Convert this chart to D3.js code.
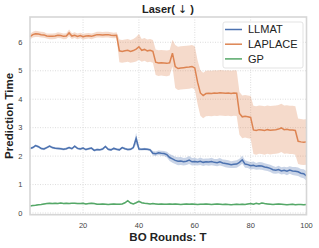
<!DOCTYPE html>
<html>
<head>
<meta charset="utf-8">
<script src="https://cdn.jsdelivr.net/npm/d3@7"></script>
<style>
  body { margin: 0; background: #fff; }
  text { font-family: "Liberation Sans", Arial, sans-serif; }
</style>
</head>
<body>
<div id="chart"></div>
<script>
// rounds 1..100
var rounds = d3.range(1, 101);

var seriesNames = ["LLMAT", "LAPLACE", "GP"];
var seriesColors = ["#4C72B0", "#DD8452", "#55A868"];

var llmatMean = [
  2.27, 2.30, 2.37, 2.33, 2.27, 2.25, 2.30, 2.35, 2.30, 2.28,
  2.27, 2.26, 2.24, 2.26, 2.30, 2.26, 2.35, 2.27, 2.25, 2.28,
  2.23, 2.26, 2.28, 2.20, 2.23, 2.22, 2.25, 2.34, 2.24, 2.22,
  2.27, 2.24, 2.22, 2.30, 2.26, 2.23, 2.24, 2.30, 2.62, 2.25,
  2.24, 2.25, 2.24, 2.22, 2.10, 2.08, 2.12, 2.10, 2.09, 2.05,
  1.95, 1.90, 1.85, 1.82, 1.83, 1.80, 1.82, 1.86, 1.80, 1.81,
  1.79, 1.82, 1.78, 1.80, 1.79, 1.81, 1.78, 1.77, 1.80, 1.76,
  1.74, 1.72, 1.70, 1.71, 1.72, 1.78, 1.87, 1.72, 1.70, 1.66,
  1.68, 1.64, 1.66, 1.65, 1.62, 1.60, 1.57, 1.52, 1.50, 1.53,
  1.48, 1.50, 1.47, 1.51, 1.48, 1.47, 1.45, 1.40, 1.38, 1.30
];
var llmatStd = [
  0.04, 0.04, 0.04, 0.04, 0.04, 0.04, 0.04, 0.04, 0.04, 0.04,
  0.04, 0.04, 0.04, 0.04, 0.04, 0.04, 0.04, 0.04, 0.04, 0.04,
  0.04, 0.04, 0.04, 0.04, 0.04, 0.04, 0.04, 0.04, 0.04, 0.04,
  0.04, 0.04, 0.04, 0.04, 0.04, 0.04, 0.04, 0.05, 0.20, 0.05,
  0.04, 0.04, 0.04, 0.05, 0.08, 0.08, 0.08, 0.09, 0.09, 0.10,
  0.12, 0.13, 0.13, 0.14, 0.14, 0.13, 0.13, 0.14, 0.13, 0.13,
  0.12, 0.13, 0.13, 0.12, 0.13, 0.13, 0.12, 0.13, 0.13, 0.12,
  0.13, 0.13, 0.12, 0.13, 0.13, 0.13, 0.14, 0.13, 0.12, 0.13,
  0.13, 0.12, 0.13, 0.13, 0.13, 0.12, 0.13, 0.13, 0.12, 0.13,
  0.13, 0.13, 0.14, 0.13, 0.14, 0.15, 0.15, 0.15, 0.16, 0.17
];

var laplaceMean = [
  6.20, 6.27, 6.30, 6.29, 6.27, 6.26, 6.22, 6.21, 6.21, 6.22,
  6.25, 6.24, 6.21, 6.22, 6.33, 6.22, 6.25, 6.21, 6.24, 6.20,
  6.22, 6.23, 6.21, 6.24, 6.27, 6.27, 6.26, 6.27, 6.27, 6.25,
  6.24, 6.25, 5.70, 5.68, 5.70, 5.72, 5.68, 5.71, 5.76, 5.84,
  5.72, 5.75, 5.70, 5.72, 5.68, 5.30, 5.27, 5.28, 5.27, 5.26,
  5.28, 5.62, 5.15, 5.08, 5.10, 5.11, 5.12, 5.13, 5.15, 5.10,
  4.60, 4.22, 4.13, 4.20, 4.21, 4.20, 4.22, 4.21, 4.23, 4.22,
  4.21, 4.22, 4.20, 4.22, 4.21, 3.50, 3.38, 3.40, 3.38, 3.36,
  2.92, 2.90, 2.93, 2.92, 2.90, 2.93, 2.91, 2.92, 2.93, 2.95,
  2.99, 2.93, 2.94, 2.92, 2.92, 2.90, 2.52, 2.50, 2.49, 2.50
];
var laplaceStd = [
  0.10, 0.10, 0.11, 0.10, 0.10, 0.10, 0.09, 0.10, 0.10, 0.10,
  0.10, 0.10, 0.10, 0.10, 0.12, 0.10, 0.10, 0.10, 0.10, 0.10,
  0.10, 0.10, 0.10, 0.10, 0.10, 0.10, 0.10, 0.10, 0.10, 0.10,
  0.10, 0.10, 0.40, 0.40, 0.40, 0.40, 0.40, 0.41, 0.43, 0.45,
  0.40, 0.40, 0.40, 0.40, 0.40, 0.45, 0.45, 0.45, 0.45, 0.45,
  0.45, 0.47, 0.76, 0.76, 0.76, 0.76, 0.76, 0.76, 0.76, 0.76,
  0.77, 0.80, 0.80, 0.80, 0.80, 0.80, 0.80, 0.80, 0.80, 0.80,
  0.80, 0.80, 0.80, 0.80, 0.80, 0.75, 0.75, 0.75, 0.75, 0.75,
  0.85, 0.85, 0.85, 0.85, 0.85, 0.85, 0.85, 0.85, 0.85, 0.85,
  0.85, 0.85, 0.85, 0.85, 0.85, 0.85, 0.80, 0.80, 0.80, 0.80
];

var gpMean = [
  0.25, 0.26, 0.27, 0.29, 0.30, 0.32, 0.33, 0.34, 0.33, 0.34,
  0.33, 0.35, 0.33, 0.34, 0.33, 0.34, 0.34, 0.33, 0.33, 0.34,
  0.32, 0.33, 0.34, 0.33, 0.31, 0.31, 0.32, 0.31, 0.30, 0.31,
  0.32, 0.31, 0.31, 0.32, 0.36, 0.43, 0.35, 0.32, 0.36, 0.41,
  0.36, 0.34, 0.33, 0.32, 0.33, 0.32, 0.31, 0.32, 0.31, 0.31,
  0.32, 0.31, 0.32, 0.31, 0.30, 0.31, 0.32, 0.31, 0.32, 0.31,
  0.30, 0.31, 0.31, 0.32, 0.31, 0.30, 0.31, 0.32, 0.31, 0.30,
  0.31, 0.30, 0.29, 0.30, 0.31, 0.30, 0.31, 0.30, 0.32, 0.33,
  0.31, 0.34, 0.32, 0.35, 0.33, 0.32, 0.31, 0.30, 0.31, 0.32,
  0.31, 0.30, 0.29, 0.30, 0.31, 0.29, 0.30, 0.30, 0.29, 0.30
];
var gpStd = [
  0.02, 0.02, 0.02, 0.02, 0.02, 0.02, 0.02, 0.02, 0.02, 0.02,
  0.02, 0.02, 0.02, 0.02, 0.02, 0.02, 0.02, 0.02, 0.02, 0.02,
  0.02, 0.02, 0.02, 0.02, 0.02, 0.02, 0.02, 0.02, 0.02, 0.02,
  0.02, 0.02, 0.02, 0.02, 0.02, 0.03, 0.02, 0.02, 0.02, 0.03,
  0.02, 0.02, 0.02, 0.02, 0.02, 0.02, 0.02, 0.02, 0.02, 0.02,
  0.02, 0.02, 0.02, 0.02, 0.02, 0.02, 0.02, 0.02, 0.02, 0.02,
  0.02, 0.02, 0.02, 0.02, 0.02, 0.02, 0.02, 0.02, 0.02, 0.02,
  0.02, 0.02, 0.02, 0.02, 0.02, 0.02, 0.02, 0.02, 0.02, 0.02,
  0.02, 0.02, 0.02, 0.02, 0.02, 0.02, 0.02, 0.02, 0.02, 0.02,
  0.02, 0.02, 0.02, 0.02, 0.02, 0.02, 0.02, 0.02, 0.02, 0.02
];

var xTicks = [20, 40, 60, 80, 100];
var yTicks = [0, 1, 2, 3, 4, 5, 6];

var width = 319, height = 248;
var plot = { left: 30, right: 306.5, top: 17, bottom: 214.7 };

var svg = d3.select("#chart").append("svg")
    .attr("width", width)
    .attr("height", height);

var x = d3.scaleLinear().domain([1, 100]).range([plot.left, plot.right]);
var y = d3.scaleLinear().domain([-0.06, 6.89]).range([plot.bottom, plot.top]);

// グリッド
var grid = svg.append("g");
grid.selectAll(".gx").data(xTicks).enter().append("line")
    .attr("x1", function(d) { return x(d); }).attr("x2", function(d) { return x(d); })
    .attr("y1", plot.top).attr("y2", plot.bottom)
    .attr("stroke", "#d4d4d4").attr("stroke-width", 0.8).attr("stroke-dasharray", "1,1.5");
grid.selectAll(".gy").data(yTicks).enter().append("line")
    .attr("x1", plot.left).attr("x2", plot.right)
    .attr("y1", function(d) { return y(d); }).attr("y2", function(d) { return y(d); })
    .attr("stroke", "#d4d4d4").attr("stroke-width", 0.8).attr("stroke-dasharray", "1,1.5");

// 系列
var series = [
    { mean: llmatMean, std: llmatStd },
    { mean: laplaceMean, std: laplaceStd },
    { mean: gpMean, std: gpStd }
];

var area = d3.area()
    .x(function(d) { return x(d.t); })
    .y0(function(d) { return y(d.m - d.s); })
    .y1(function(d) { return y(d.m + d.s); });
var line = d3.line()
    .x(function(d) { return x(d.t); })
    .y(function(d) { return y(d.m); });

var drawOrder = [1, 0, 2];
drawOrder.forEach(function(i) {
    var pts = rounds.map(function(t, k) {
        return { t: t, m: series[i].mean[k], s: series[i].std[k] };
    });
    svg.append("path").datum(pts)
        .attr("d", area)
        .attr("fill", seriesColors[i])
        .attr("fill-opacity", 0.3);
});
drawOrder.forEach(function(i) {
    var pts = rounds.map(function(t, k) {
        return { t: t, m: series[i].mean[k], s: series[i].std[k] };
    });
    svg.append("path").datum(pts)
        .attr("d", line)
        .attr("fill", "none")
        .attr("stroke", seriesColors[i])
        .attr("stroke-width", 1.5);
});

// 枠
svg.append("rect")
    .attr("x", plot.left).attr("y", plot.top)
    .attr("width", plot.right - plot.left).attr("height", plot.bottom - plot.top)
    .attr("fill", "none").attr("stroke", "#d6d6d6").attr("stroke-width", 1.6);

// 目盛りラベル
svg.selectAll(".xt").data(xTicks).enter().append("text")
    .attr("x", function(d) { return x(d); })
    .attr("y", 228)
    .attr("text-anchor", "middle")
    .attr("font-size", "7.5px")
    .attr("fill", "#444")
    .text(function(d) { return d; });
svg.selectAll(".yt").data(yTicks).enter().append("text")
    .attr("x", 22.5)
    .attr("y", function(d) { return y(d); })
    .attr("dy", "0.35em")
    .attr("text-anchor", "end")
    .attr("font-size", "7.5px")
    .attr("fill", "#444")
    .text(function(d) { return d; });

// タイトル・軸ラベル
var title = svg.append("text")
    .attr("x", 168).attr("y", 13)
    .attr("text-anchor", "middle")
    .attr("font-size", "11px").attr("font-weight", "bold")
    .attr("fill", "#222");
title.append("tspan").text("Laser( ");
title.append("tspan").attr("font-family", "DejaVu Sans").attr("font-weight", "normal").text("\u2193");
title.append("tspan").text(" )");

svg.append("text")
    .attr("x", 168).attr("y", 241)
    .attr("text-anchor", "middle")
    .attr("font-size", "11.5px").attr("font-weight", "bold")
    .attr("fill", "#222")
    .text("BO Rounds: T");
svg.append("text")
    .attr("transform", "translate(13," + ((plot.top + plot.bottom) / 2) + ") rotate(-90)")
    .attr("text-anchor", "middle")
    .attr("font-size", "11.5px").attr("font-weight", "bold")
    .attr("fill", "#222")
    .text("Prediction Time");

// 凡例
var legend = svg.append("g").attr("transform", "translate(223,22)");
legend.append("rect")
    .attr("width", 80).attr("height", 46).attr("rx", 2)
    .attr("fill", "#fff").attr("fill-opacity", 0.85)
    .attr("stroke", "#dcdcdc").attr("stroke-width", 0.8);
seriesNames.forEach(function(name, i) {
    var cy = 7.5 + i * 14.7;
    legend.append("line")
        .attr("x1", 2).attr("x2", 19)
        .attr("y1", cy).attr("y2", cy)
        .attr("stroke", seriesColors[i]).attr("stroke-width", 1.5);
    legend.append("text")
        .attr("x", 25).attr("y", cy)
        .attr("dy", "0.36em")
        .attr("font-size", "11px")
        .attr("fill", "#222")
        .text(name);
});
</script>
</body>
</html>
